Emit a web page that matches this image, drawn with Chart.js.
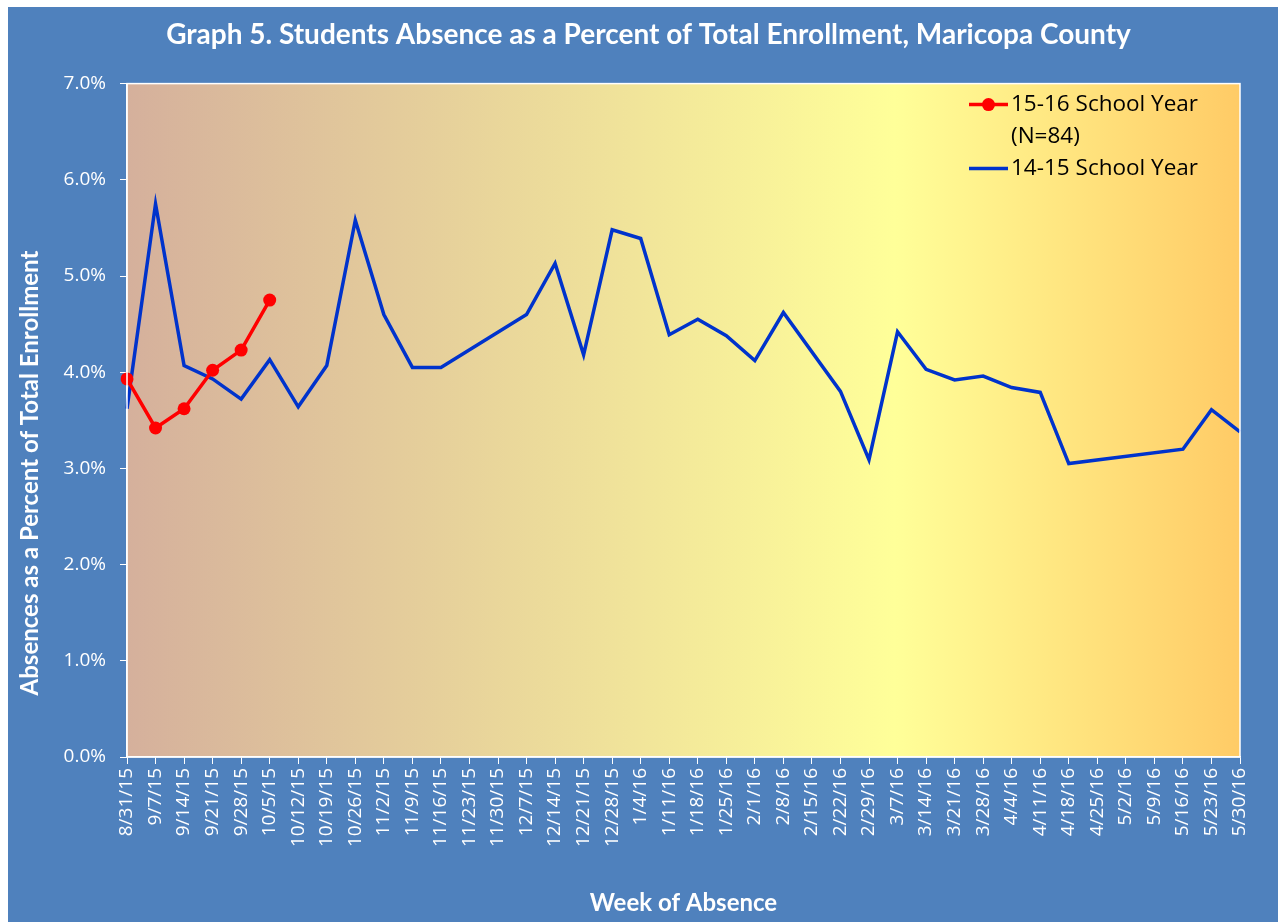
<!DOCTYPE html>
<html>
<head>
<meta charset="utf-8">
<script src="https://cdn.jsdelivr.net/npm/chart.js@4.4.0/dist/chart.umd.min.js"></script>
<style>
  html, body { margin: 0; background: #fff; }
  #wrap { position: absolute; left: 8px; top: 7px; width: 1270px; height: 915px; }
</style>
</head>
<body>
<div id="wrap"><canvas id="myChart"></canvas></div>
<script>
// weeks on the x axis
const weeks = ['8/31/15', '9/7/15', '9/14/15', '9/21/15', '9/28/15', '10/5/15', '10/12/15', '10/19/15',
  '10/26/15', '11/2/15', '11/9/15', '11/16/15', '11/23/15', '11/30/15', '12/7/15', '12/14/15',
  '12/21/15', '12/28/15', '1/4/16', '1/11/16', '1/18/16', '1/25/16', '2/1/16', '2/8/16',
  '2/15/16', '2/22/16', '2/29/16', '3/7/16', '3/14/16', '3/21/16', '3/28/16', '4/4/16',
  '4/11/16', '4/18/16', '4/25/16', '5/2/16', '5/9/16', '5/16/16', '5/23/16', '5/30/16'];

// percent absent, 15-16 school year (so far)
const year1516 = [3.93, 3.42, 3.62, 4.02, 4.23, 4.75];

// percent absent, 14-15 school year (null = no value, line drawn across)
const year1415 = [3.62, 5.75, 4.07, 3.93, 3.72, 4.13, 3.64, 4.07,
  5.58, 4.60, 4.05, 4.05, null, null, 4.60, 5.13,
  4.18, 5.48, 5.39, 4.39, 4.55, 4.38, 4.12, 4.62,
  null, 3.80, 3.09, 4.42, 4.03, 3.92, 3.96, 3.84,
  3.79, 3.05, null, null, null, 3.20, 3.61, 3.38];

const legendLines = [['15-16 School Year', '(N=84)'], ['14-15 School Year']];
const yTitle = 'Absences as a Percent of Total Enrollment';

const bgBlue = '#4F81BD';
const tickFont = { family: 'Open Sans', size: 19 };

const backdrop = {
  id: 'backdrop',
  beforeDraw(chart) {
    const c = chart.ctx, a = chart.chartArea;
    c.save();
    c.fillStyle = bgBlue;
    c.fillRect(0, 0, chart.width, chart.height);
    const g = c.createLinearGradient(a.left, 0, a.right, 0);
    g.addColorStop(0, '#D5B09C');
    g.addColorStop(0.69, '#FFFF99');
    g.addColorStop(1, '#FFCB66');
    c.fillStyle = g;
    c.fillRect(a.left, a.top, a.right - a.left, a.bottom - a.top);
    c.restore();
  },
  afterDraw(chart) {
    const c = chart.ctx, a = chart.chartArea;
    c.save();
    // plot border
    c.strokeStyle = '#fff';
    c.lineWidth = 1.5;
    c.strokeRect(a.left, a.top, a.right - a.left, a.bottom - a.top);

    // y axis title
    c.fillStyle = '#fff';
    c.font = 'bold 24px Lato';
    c.textAlign = 'center';
    c.textBaseline = 'middle';
    c.translate(22, 466);
    c.rotate(-Math.PI / 2);
    c.fillText(yTitle, 0, 0);
    c.restore();

    // legend
    c.save();
    const ds = chart.data.datasets;
    const x0 = a.right - 271;
    let y = a.top + 21;
    c.font = '22.5px "Open Sans"';
    c.textBaseline = 'middle';
    c.textAlign = 'left';
    ds.forEach((d, i) => {
      c.strokeStyle = d.borderColor;
      c.lineWidth = 3.5;
      c.beginPath();
      c.moveTo(x0, y);
      c.lineTo(x0 + 39, y);
      c.stroke();
      if (d.pointRadius > 0) {
        c.fillStyle = d.pointBackgroundColor;
        c.beginPath();
        c.arc(x0 + 19.5, y, 6.5, 0, Math.PI * 2);
        c.fill();
      }
      c.fillStyle = '#000';
      legendLines[i].forEach((t, j) => {
        c.fillText(t, x0 + 42, y + j * 32);
      });
      y += legendLines[i].length * 32;
    });
    c.restore();
  }
};

new Chart(document.getElementById('myChart'), {
  type: 'line',
  data: {
    labels: weeks,
    datasets: [{
      label: '15-16 School Year (N=84)',
      data: year1516,
      borderColor: '#FF0000',
      backgroundColor: '#FF0000',
      pointBackgroundColor: '#FF0000',
      pointBorderWidth: 0,
      pointRadius: 6.5,
      borderWidth: 3.5,
      tension: 0
    }, {
      label: '14-15 School Year',
      data: year1415,
      borderColor: '#0033CC',
      backgroundColor: '#0033CC',
      pointRadius: 0,
      borderWidth: 3.5,
      spanGaps: true,
      tension: 0
    }]
  },
  options: {
    responsive: true,
    maintainAspectRatio: false,
    animation: false,
    layout: { padding: { left: 11, right: 0, top: 0, bottom: 0 } },
    plugins: {
      legend: { display: false },
      tooltip: { enabled: false },
      title: {
        display: true,
        text: 'Graph 5. Students Absence as a Percent of Total Enrollment, Maricopa County',
        color: '#fff',
        font: { family: 'Lato', size: 28, weight: 'bold' },
        padding: { top: 11, bottom: 32 }
      }
    },
    scales: {
      x: {
        offset: false,
        grid: { display: true, drawOnChartArea: false, color: '#fff', tickLength: 7, offset: false },
        border: { color: '#fff', width: 1.5 },
        ticks: { color: '#fff', font: tickFont, maxRotation: 90, minRotation: 90, autoSkip: false, padding: 4 },
        title: {
          display: true,
          text: 'Week of Absence',
          color: '#fff',
          font: { family: 'Lato', size: 24, weight: 'bold' },
          padding: { top: 0, bottom: 4 }
        },
        afterFit(s) { s.height = 165; }
      },
      y: {
        min: 0,
        max: 7,
        grid: { display: true, drawOnChartArea: false, color: '#fff', tickLength: 7 },
        border: { color: '#fff', width: 1.5 },
        ticks: {
          color: '#fff',
          font: tickFont,
          stepSize: 1,
          padding: 14,
          callback: v => v.toFixed(1) + '%'
        },
        afterFit(s) { s.width = 108; }
      },
      // empty strip on the right, only keeps the plot clear of the edge
      spacer: {
        type: 'linear',
        position: 'right',
        grid: { display: false },
        border: { display: false },
        ticks: { display: false },
        afterFit(s) { s.width = 38; }
      }
    }
  },
  plugins: [backdrop]
});
</script>
</body>
</html>
